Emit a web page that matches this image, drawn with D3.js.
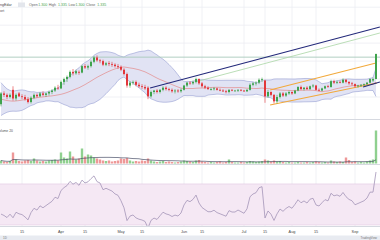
<!DOCTYPE html>
<html>
<head>
<meta charset="utf-8">
<style>
  body { margin: 0; background: #fff; }
  svg { display: block; font-family: "Liberation Sans", Arial, sans-serif; }
</style>
</head>
<body>
<svg width="380" height="240"></svg>
<script src="https://d3js.org/d3.v7.min.js"></script>
<script>
// closes before the first visible candle (only used by the indicators)
const warmupClose = [1.300, 1.294, 1.288, 1.280, 1.272, 1.266, 1.262, 1.258, 1.256, 1.260,
  1.264, 1.262, 1.267, 1.270, 1.268, 1.273, 1.276, 1.275, 1.272];

const open = [1.265,1.280,1.278,1.275,1.285,1.273,1.280,1.276,1.275,1.272,
  1.268,1.274,1.278,1.276,1.280,1.278,1.280,1.282,1.284,1.288,
  1.287,1.296,1.300,1.303,1.310,1.308,1.310,1.309,1.318,1.316,
  1.318,1.324,1.330,1.326,1.325,1.320,1.322,1.321,1.320,1.318,
  1.317,1.313,1.307,1.291,1.295,1.296,1.292,1.290,1.289,1.288,
  1.276,1.282,1.284,1.282,1.285,1.288,1.286,1.285,1.283,1.284,
  1.283,1.285,1.291,1.295,1.294,1.296,1.300,1.294,1.290,1.288,
  1.286,1.286,1.287,1.285,1.284,1.283,1.282,1.285,1.284,1.284,
  1.285,1.284,1.283,1.285,1.292,1.294,1.295,1.299,1.298,1.276,
  1.282,1.278,1.269,1.275,1.280,1.277,1.280,1.282,1.280,1.284,
  1.289,1.286,1.288,1.286,1.290,1.291,1.285,1.284,1.287,1.290,
  1.289,1.297,1.295,1.296,1.295,1.299,1.296,1.294,1.293,1.290,
  1.291,1.292,1.293,1.295,1.298,1.300];
const high = [1.282,1.283,1.280,1.280,1.290,1.280,1.282,1.279,1.278,1.275,
  1.276,1.280,1.280,1.282,1.283,1.281,1.284,1.286,1.290,1.292,
  1.298,1.302,1.305,1.312,1.314,1.313,1.312,1.320,1.321,1.320,
  1.326,1.332,1.333,1.328,1.327,1.324,1.325,1.324,1.322,1.321,
  1.319,1.315,1.309,1.297,1.298,1.298,1.295,1.293,1.292,1.290,
  1.284,1.285,1.286,1.286,1.290,1.290,1.288,1.287,1.286,1.286,
  1.287,1.292,1.296,1.297,1.298,1.302,1.301,1.296,1.292,1.290,
  1.288,1.289,1.288,1.287,1.286,1.285,1.286,1.286,1.285,1.286,
  1.286,1.285,1.286,1.294,1.296,1.297,1.301,1.302,1.299,1.285,
  1.283,1.279,1.278,1.282,1.282,1.282,1.284,1.283,1.285,1.290,
  1.291,1.289,1.290,1.291,1.293,1.292,1.287,1.288,1.291,1.292,
  1.299,1.299,1.298,1.298,1.301,1.300,1.297,1.296,1.294,1.292,
  1.293,1.294,1.296,1.301,1.302,1.335];
const low = [1.262,1.275,1.272,1.273,1.270,1.270,1.275,1.272,1.270,1.266,
  1.266,1.272,1.274,1.275,1.276,1.275,1.277,1.279,1.282,1.285,
  1.286,1.292,1.296,1.301,1.305,1.306,1.306,1.308,1.314,1.313,
  1.316,1.322,1.324,1.322,1.318,1.318,1.318,1.317,1.316,1.314,
  1.311,1.305,1.288,1.288,1.292,1.290,1.288,1.286,1.285,1.272,
  1.274,1.279,1.280,1.280,1.283,1.284,1.283,1.281,1.280,1.281,
  1.281,1.284,1.289,1.292,1.292,1.294,1.292,1.288,1.286,1.285,
  1.284,1.284,1.284,1.283,1.282,1.280,1.280,1.283,1.283,1.282,
  1.283,1.282,1.282,1.284,1.290,1.291,1.293,1.296,1.267,1.274,
  1.276,1.266,1.266,1.273,1.275,1.275,1.278,1.278,1.279,1.283,
  1.285,1.284,1.285,1.285,1.288,1.284,1.283,1.283,1.286,1.288,
  1.288,1.293,1.293,1.294,1.294,1.294,1.292,1.291,1.288,1.288,
  1.289,1.290,1.291,1.294,1.296,1.300];
const close = [1.280,1.278,1.275,1.278,1.273,1.278,1.276,1.275,1.272,1.268,
  1.274,1.278,1.276,1.280,1.278,1.280,1.282,1.284,1.288,1.287,
  1.296,1.300,1.303,1.310,1.308,1.311,1.309,1.318,1.316,1.318,
  1.324,1.330,1.326,1.325,1.320,1.322,1.321,1.320,1.318,1.317,
  1.313,1.307,1.291,1.295,1.296,1.292,1.290,1.289,1.287,1.276,
  1.282,1.284,1.282,1.285,1.288,1.286,1.285,1.283,1.284,1.283,
  1.285,1.291,1.295,1.294,1.296,1.300,1.294,1.290,1.288,1.286,
  1.286,1.287,1.285,1.284,1.283,1.282,1.285,1.284,1.284,1.285,
  1.284,1.283,1.285,1.292,1.294,1.295,1.299,1.300,1.276,1.282,
  1.278,1.269,1.275,1.280,1.277,1.280,1.282,1.280,1.284,1.289,
  1.286,1.288,1.286,1.290,1.291,1.285,1.284,1.287,1.290,1.289,
  1.297,1.295,1.296,1.295,1.299,1.296,1.294,1.293,1.290,1.291,
  1.292,1.293,1.295,1.300,1.300,1.335];
const volume = [300,200,150,250,1100,400,250,200,300,350,
  250,500,300,200,250,200,300,350,400,300,
  1100,600,500,1200,700,400,500,1500,700,900,
  800,600,500,400,300,250,300,200,250,300,
  500,450,550,300,200,250,200,300,250,500,
  300,200,150,200,250,150,200,150,100,150,
  200,300,250,200,150,300,350,200,150,100,
  150,100,150,200,100,150,400,150,100,100,
  150,100,150,250,200,150,200,250,400,300,
  200,300,200,250,150,100,150,100,100,150,
  100,100,150,100,150,200,150,100,150,100,
  300,200,150,200,150,600,350,150,200,100,
  150,100,200,300,400,3300];

// x axis: candle index of each label
const tickIdx = [7, 20, 28, 40, 47, 61, 67, 81, 88, 97, 105, 118];
const tickLabels = ["15", "Apr", "15", "May", "15", "Jun", "15", "Jul", "15", "Aug", "15", "Sep"];

// drawn trend lines: [candle index, price]
const lineStart = [[49.7, 1.2876], [64.7, 1.2959], [89.7, 1.2848], [89.7, 1.2639], [120.7, 1.2890]];
const lineEnd   = [[126.3, 1.3724], [126.3, 1.3641], [125.0, 1.3223], [125.3, 1.2945], [126.3, 1.2959]];
const hLevels = [1.3305];
const priceGrid = [1.275, 1.300, 1.325, 1.350, 1.375, 1.400];
const rsiBand = [30, 70];

const legendNames = ["Open", "High", "Low", "Close"];
const legendValues = ["1.300", "1.335", "1.300", "1.335"];

const lineColors = ["#23297a", "#a9d6a4", "#f2a93b", "#f2a93b", "#23297a"];
const up = "#3fa34d", down = "#e2363b";

const svg = d3.select("svg");
const N = close.length;

const x = d3.scaleLinear().domain([0, N - 1]).range([1, 376]);
const y = d3.scaleLinear().domain([1.25, 1.41]).range([115, 0]);
const yVol = d3.scaleLinear().domain([0, 3500]).range([163.5, 128.5]);
const yRsi = d3.scaleLinear().domain([29.0, 87.5]).range([226, 166]);

// indicators
const all = warmupClose.concat(close);
const W = warmupClose.length;
const bb = close.map((c, i) => {
  const win = all.slice(i + W - 19, i + W + 1);
  const m = d3.mean(win);
  const sd = Math.sqrt(d3.mean(win, v => (v - m) ** 2));
  return { i: i, m: m, up: m + 2 * sd, lo: m - 2 * sd };
});
let ag = 0, al = 0;
const rsi = [];
for (let j = 1; j < all.length; j++) {
  const ch = all[j] - all[j - 1];
  const g = Math.max(ch, 0), l = Math.max(-ch, 0);
  if (j <= 14) { ag += g / 14; al += l / 14; }
  else { ag = (ag * 13 + g) / 14; al = (al * 13 + l) / 14; }
  if (j >= W) rsi.push({ i: j - W, v: al === 0 ? 100 : 100 - 100 / (1 + ag / al) });
}
const volMa = volume.map((v, i) => ({ i: i, v: d3.mean(volume.slice(Math.max(0, i - 19), i + 1)) }));

// clips
const defs = svg.append("defs");
defs.append("clipPath").attr("id", "cMain").append("rect").attr("x", 0).attr("y", 0).attr("width", 380).attr("height", 119);
defs.append("clipPath").attr("id", "cRsi").append("rect").attr("x", 0).attr("y", 166).attr("width", 380).attr("height", 60);

// grid
svg.append("g").selectAll("line").data(tickIdx).enter().append("line")
  .attr("x1", d => x(d)).attr("x2", d => x(d)).attr("y1", 0).attr("y2", 227)
  .attr("stroke", "#eceef2").attr("stroke-width", 0.8);
svg.append("g").selectAll("line").data(priceGrid).enter().append("line")
  .attr("x1", 0).attr("x2", 380).attr("y1", d => y(d)).attr("y2", d => y(d))
  .attr("stroke", "#eceef2").attr("stroke-width", 0.8);

// main pane
const main = svg.append("g").attr("clip-path", "url(#cMain)");
main.append("path").datum(bb)
  .attr("d", d3.area().x(d => x(d.i)).y0(d => y(d.lo)).y1(d => y(d.up)))
  .attr("fill", "#e1e3f4");
["up", "lo"].forEach(k => {
  main.append("path").datum(bb)
    .attr("d", d3.line().x(d => x(d.i)).y(d => y(d[k])))
    .attr("fill", "none").attr("stroke", "#a3abd9").attr("stroke-width", 0.7);
});
main.append("path").datum(bb)
  .attr("d", d3.line().x(d => x(d.i)).y(d => y(d.m)))
  .attr("fill", "none").attr("stroke", "#e48a8a").attr("stroke-width", 0.7);

main.selectAll(".hl").data(hLevels).enter().append("line")
  .attr("x1", 0).attr("x2", 380).attr("y1", d => y(d)).attr("y2", d => y(d))
  .attr("stroke", "#a9c9bb").attr("stroke-width", 0.9);

main.selectAll(".tl").data(lineStart).enter().append("line")
  .attr("x1", d => x(d[0])).attr("y1", d => y(d[1]))
  .attr("x2", (d, i) => x(lineEnd[i][0])).attr("y2", (d, i) => y(lineEnd[i][1]))
  .attr("stroke", (d, i) => lineColors[i]).attr("stroke-width", (d, i) => i === 1 ? 0.8 : 1.1);

const idx = d3.range(N);
const cg = main.append("g");
cg.selectAll(".wick").data(idx).enter().append("line")
  .attr("x1", i => x(i)).attr("x2", i => x(i))
  .attr("y1", i => y(high[i])).attr("y2", i => y(low[i]))
  .attr("stroke", i => close[i] >= open[i] ? up : down).attr("stroke-width", 0.6);
cg.selectAll(".body").data(idx).enter().append("rect")
  .attr("x", i => x(i) - 1).attr("width", 2)
  .attr("y", i => y(Math.max(open[i], close[i])))
  .attr("height", i => Math.max(0.8, Math.abs(y(open[i]) - y(close[i]))))
  .attr("fill", i => close[i] >= open[i] ? up : down);

// header legend
const hdr = svg.append("g").attr("font-size", 3.6);
hdr.append("text").attr("x", 0).attr("y", 6).attr("fill", "#444").text("ngEdar");
hdr.append("rect").attr("x", 18).attr("y", 2.5).attr("width", 7).attr("height", 4.5).attr("fill", "#e3e6ec");
let hx = 29;
legendNames.forEach((n, k) => {
  hdr.append("text").attr("x", hx).attr("y", 6).attr("fill", "#666").text(n);
  hx += n.length * 2.0 + 1.2;
  hdr.append("text").attr("x", hx).attr("y", 6).attr("fill", "#3fa34d").text(legendValues[k]);
  hx += 10.5;
});
hdr.append("text").attr("x", 0).attr("y", 11.5).attr("fill", "#555").text("ort");

// pane separators
[119.5, 164.5, 226.5].forEach(v => {
  svg.append("line").attr("x1", 0).attr("x2", 380).attr("y1", v).attr("y2", v)
    .attr("stroke", "#d6d9e0").attr("stroke-width", 1);
});

// volume pane
svg.append("text").attr("x", -1).attr("y", 131.5).attr("font-size", 3.4).attr("fill", "#555").text("olume 20");
svg.append("g").selectAll("rect").data(idx).enter().append("rect")
  .attr("x", i => x(i) - 1.2).attr("width", 2.4)
  .attr("y", i => yVol(volume[i])).attr("height", i => yVol(0) - yVol(volume[i]))
  .attr("fill", i => close[i] >= open[i] ? "#8fd08f" : "#ee9898");
svg.append("path").datum(volMa)
  .attr("d", d3.line().x(d => x(d.i)).y(d => yVol(d.v)))
  .attr("fill", "none").attr("stroke", "#4a5068").attr("stroke-width", 0.7);

// RSI pane
svg.append("rect").attr("x", 0).attr("width", 380)
  .attr("y", yRsi(rsiBand[1])).attr("height", yRsi(rsiBand[0]) - yRsi(rsiBand[1]))
  .attr("fill", "#f5e8f4");
svg.selectAll(".rb").data(rsiBand).enter().append("line")
  .attr("x1", 0).attr("x2", 380).attr("y1", d => yRsi(d)).attr("y2", d => yRsi(d))
  .attr("stroke", "#e2c9e0").attr("stroke-width", 0.6);
svg.append("path").datum(rsi).attr("clip-path", "url(#cRsi)")
  .attr("d", d3.line().x(d => x(d.i)).y(d => yRsi(d.v)))
  .attr("fill", "none").attr("stroke", "#a394b8").attr("stroke-width", 0.8);

// x axis labels
svg.append("g").selectAll("text").data(tickIdx).enter().append("text")
  .attr("x", d => x(d)).attr("y", 232.5).attr("text-anchor", "middle")
  .attr("font-size", 3.8).attr("fill", "#444")
  .text((d, i) => tickLabels[i]);

// bottom strip
svg.append("rect").attr("x", 0).attr("y", 235.5).attr("width", 380).attr("height", 4.5).attr("fill", "#e8ebf1");
svg.append("text").attr("x", 3).attr("y", 239.3).attr("font-size", 3).attr("fill", "#777").text("1D");
svg.append("text").attr("x", 377).attr("y", 239.3).attr("text-anchor", "end").attr("font-size", 3).attr("fill", "#777").text("TradingView");
</script>
</body>
</html>
